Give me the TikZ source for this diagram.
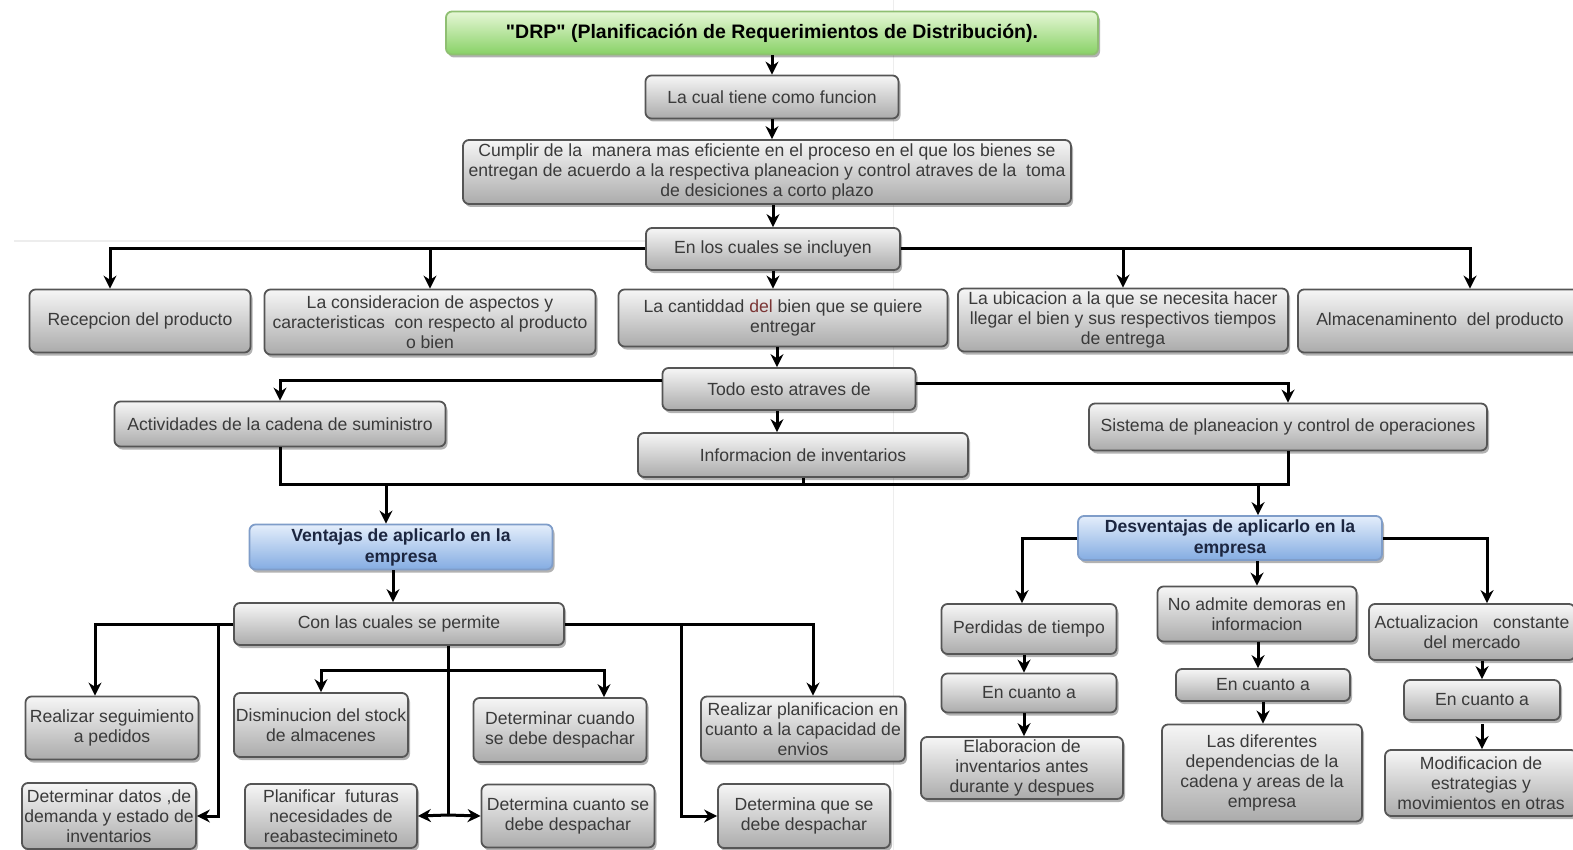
\documentclass[tikz,border=0pt]{standalone}
\usepackage{fontspec}
\setmainfont{Liberation Sans}[Ligatures=TeXOff]
\usetikzlibrary{arrows.meta,shadows}

\definecolor{txt}{HTML}{3A3A3A}
\definecolor{edge}{HTML}{555555}
\definecolor{greytop}{HTML}{F6F6F6}
\definecolor{greybot}{HTML}{ABABAB}
\definecolor{bluetop}{HTML}{E4EEFB}
\definecolor{bluebot}{HTML}{84ACE2}
\definecolor{blueedge}{HTML}{7F9DC9}
\definecolor{greentop}{HTML}{E6F7D6}
\definecolor{greenbot}{HTML}{88D166}
\definecolor{greenedge}{HTML}{8FBF72}
\definecolor{navy}{HTML}{1C2640}
\definecolor{redword}{HTML}{7A3434}
\definecolor{guide}{HTML}{EDEDED}

\tikzset{
  box/.style={rectangle, rounded corners=6pt, draw=edge, line width=1.8pt,
    top color=greytop, bottom color=greybot, text=txt, align=center,
    inner sep=0pt, font=\fontsize{17.6}{20}\selectfont,
    drop shadow={shadow xshift=2pt, shadow yshift=-3pt, opacity=0.3, fill=black}},
  bluebox/.style={box, draw=blueedge, top color=bluetop, bottom color=bluebot,
    text=navy, font=\fontsize{17.6}{21}\selectfont\bfseries},
  greenbox/.style={box, draw=greenedge, top color=greentop, bottom color=greenbot,
    text=black, font=\fontsize{19.5}{22}\selectfont\bfseries},
  link/.style={line width=3pt, draw=black},
  arr/.style={link, -{Stealth[length=13pt,width=13pt]}},
}

\begin{document}
\begin{tikzpicture}[x=1pt,y=-1pt]
\useasboundingbox (0,0) rectangle (1573,850);
\fill[white] (0,0) rectangle (1573,850);

% faint page guides
\draw[guide, line width=1pt] (893,0) -- (893,850);
\draw[guide, line width=1.2pt] (14,241) -- (646,241);

% top chain
\node[greenbox, minimum width=652, minimum height=43] (drp) at (772,33)
  {"DRP" (Planificación de Requerimientos de Distribución).};
\node[box, minimum width=253, minimum height=43] (fun) at (772,97)
  {La cual tiene como funcion};
\node[box, minimum width=608, minimum height=64] (cum) at (767,172)
  {Cumplir de la\ \ manera mas eficiente en el proceso en el que los bienes se\\
   entregan de acuerdo a la respectiva planeacion y control atraves de la\ \ toma\\
   de desiciones a corto plazo};
\node[box, minimum width=254, minimum height=42] (inc) at (773,249)
  {En los cuales se incluyen};

% included items
\node[box, minimum width=221, minimum height=63] (rec) at (140,321)
  {Recepcion del producto};
\node[box, minimum width=331, minimum height=65] (csd) at (430,322)
  {La consideracion de aspectos y\\caracteristicas\ \ con respecto al producto\\o bien};
\node[box, minimum width=329, minimum height=57] (can) at (783,318)
  {La cantiddad {\color{redword}del} bien que se quiere\\entregar};
\node[box, minimum width=330, minimum height=63] (ubi) at (1123,320)
  {La ubicacion a la que se necesita hacer\\llegar el bien y sus respectivos tiempos\\de entrega};
\node[box, minimum width=284, minimum height=63] (alm) at (1440,321)
  {Almacenaminento\ \ del producto};

% means
\node[box, minimum width=253, minimum height=42] (tod) at (789,389)
  {Todo esto atraves de};
\node[box, minimum width=331, minimum height=45] (act) at (280,424)
  {Actividades de la cadena de suministro};
\node[box, minimum width=330, minimum height=44] (inf) at (803,455)
  {Informacion de inventarios};
\node[box, minimum width=398, minimum height=47] (sis) at (1288,427)
  {Sistema de planeacion y control de operaciones};

% advantages / disadvantages
\node[bluebox, minimum width=303, minimum height=45] (ven) at (401,547)
  {Ventajas de aplicarlo en la\\empresa};
\node[bluebox, minimum width=304, minimum height=44] (des) at (1230,538)
  {Desventajas de aplicarlo en la\\empresa};

% advantages branch
\node[box, minimum width=330, minimum height=42] (cls) at (399,624)
  {Con las cuales se permite};
\node[box, minimum width=173, minimum height=63] (rsp) at (112,728)
  {Realizar seguimiento\\a pedidos};
\node[box, minimum width=174, minimum height=64] (dis) at (321,725)
  {Disminucion del stock\\de almacenes};
\node[box, minimum width=173, minimum height=64] (dcu) at (560,730)
  {Determinar cuando\\se debe despachar};
\node[box, minimum width=204, minimum height=65] (rpl) at (803,729)
  {Realizar planificacion en\\cuanto a la capacidad de\\envios};
\node[box, minimum width=174, minimum height=66] (ddt) at (109,816)
  {Determinar datos ,de\\demanda y estado de\\inventarios};
\node[box, minimum width=172, minimum height=64] (pfn) at (331,816)
  {Planificar\ \ futuras\\necesidades de\\reabastecimineto};
\node[box, minimum width=173, minimum height=63] (dct) at (568,816)
  {Determina cuanto se\\debe despachar};
\node[box, minimum width=172, minimum height=64] (dqs) at (804,816)
  {Determina que se\\debe despachar};

% disadvantages branch
\node[box, minimum width=175, minimum height=50] (per) at (1029,629)
  {Perdidas de tiempo};
\node[box, minimum width=175, minimum height=39] (ec1) at (1029,693)
  {En cuanto a};
\node[box, minimum width=202, minimum height=62] (ela) at (1022,768)
  {Elaboracion de\\inventarios antes\\durante y despues};
\node[box, minimum width=199, minimum height=55] (noa) at (1257,614)
  {No admite demoras en\\informacion};
\node[box, minimum width=174, minimum height=32] (ec2) at (1263,685)
  {En cuanto a};
\node[box, minimum width=200, minimum height=97] (dif) at (1262,773)
  {Las diferentes\\dependencias de la\\cadena y areas de la\\empresa};
\node[box, minimum width=206, minimum height=56] (acm) at (1472,632)
  {Actualizacion\ \ \ constante\\del mercado};
\node[box, minimum width=156, minimum height=40] (ec3) at (1482,700)
  {En cuanto a};
\node[box, minimum width=192, minimum height=66] (mod) at (1481,783)
  {Modificacion de\\estrategias y\\movimientos en otras};

% junction points
\coordinate (jl) at (386,484);
\coordinate (jr) at (1258,484);
\coordinate (jc) at (448,815);
\coordinate (jh) at (448,670);
\coordinate (m3) at (1482,724);

% connectors: top chain
\draw[arr] (drp.south) -- (fun.north);
\draw[arr] (fun.south) -- (cum.north -| fun.south);
\draw[arr] (cum.south -| inc.north) -- (inc.north);
\draw[arr] (inc.west) -| (rec.north -| 110,0);
\draw[arr] (inc.west) -| (csd.north);
\draw[arr] (inc.east) -| (ubi.north);
\draw[arr] (inc.east) -| (alm.north -| 1470,0);
\draw[arr] (inc.south) -- (can.north -| inc.south);
\draw[arr] (can.south -| 777,0) -- (tod.north -| 777,0);

% connectors: means
\draw[arr] (tod.west |- 0,380) -| (act.north);
\draw[arr] (tod.east |- 0,383) -| (sis.north);
\draw[arr] (tod.south -| 777,0) -- (inf.north -| 777,0);
\draw[link] (act.south) |- (sis.south |- jl) -- (sis.south);
\draw[link] (inf.south) -- (inf.south |- jl);
\draw[arr] (jl) -- (ven.north -| jl);
\draw[arr] (jr) -- (des.north -| jr);

% connectors: advantages
\draw[arr] (ven.south -| 393,0) -- (cls.north -| 393,0);
\draw[arr] (cls.west) -| (rsp.north -| 95,0);
\draw[arr] (cls.west -| 218,0) |- (ddt.east);
\draw[link] (cls.south -| jc) -- (jc);
\draw[arr] (jc) -- (pfn.east);
\draw[arr] (jc) -- (dct.west);
\draw[arr] (jh) -| (dis.north);
\draw[arr] (jh) -| (dcu.north -| 604,0);
\draw[arr] (cls.east) -| (rpl.north -| 813,0);
\draw[arr] (cls.east -| 681,0) |- (dqs.west);

% connectors: disadvantages
\draw[arr] (des.west) -| (per.north -| 1022,0);
\draw[arr] (des.east) -| (acm.north -| 1487,0);
\draw[arr] (des.south -| 1257,0) -- (noa.north);
\draw[arr] (per.south -| 1024,0) -- (ec1.north -| 1024,0);
\draw[arr] (ec1.south -| 1024,0) -- (ela.north -| 1024,0);
\draw[arr] (noa.south -| 1258,0) -- (ec2.north -| 1258,0);
\draw[arr] (ec2.south -| 1263,0) -- (dif.north -| 1263,0);
\draw[arr] (acm.south -| 1482,0) -- (ec3.north);
\draw[arr] (m3) -- (mod.north -| m3);
\end{tikzpicture}
\end{document}
